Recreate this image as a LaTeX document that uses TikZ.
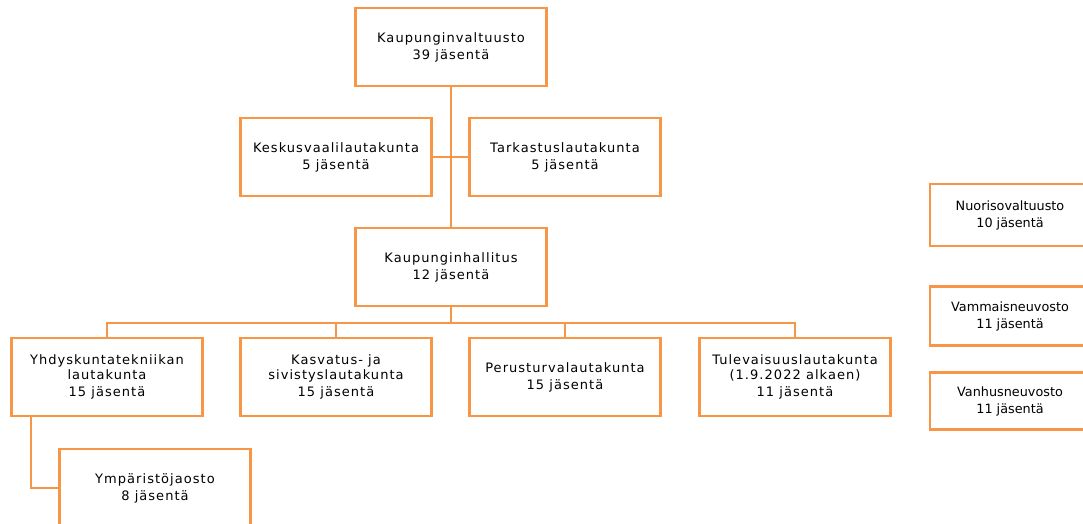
\documentclass[tikz,border=0pt]{standalone}
\usepackage{fontspec}
\newfontfamily\orgfont[LetterSpace=8]{DejaVu Sans}
\newfontfamily\sidefont{DejaVu Sans}
\definecolor{orgorange}{RGB}{247,150,70}
\begin{document}
\begin{tikzpicture}[x=1pt, y=-1pt,
		orgbox/.style={draw=orgorange, line width=2.4pt, minimum width=191pt, minimum height=78pt,
			align=center, inner sep=0pt, font=\orgfont\fontsize{13}{15}\selectfont},
		sidebox/.style={draw=orgorange, line width=2.4pt, minimum width=160pt, align=center,
			inner sep=0pt, font=\sidefont\fontsize{12.8}{17}\selectfont},
		link/.style={draw=orgorange, line width=2.4pt}]
	\clip (0,0) rectangle (1083,523);
	\useasboundingbox (0,0) rectangle (1083,523);

	\node[orgbox] (valtuusto) at (451, 47) {Kaupunginvaltuusto\\[2pt]39 jäsentä};
	\node[orgbox] (keskusvaali) at (336, 157) {Keskusvaalilautakunta\\[2pt]5 jäsentä};
	\node[orgbox] (tarkastus) at (565, 157) {Tarkastuslautakunta\\[2pt]5 jäsentä};
	\node[orgbox] (hallitus) at (451, 267) {Kaupunginhallitus\\[2pt]12 jäsentä};

	\node[orgbox] (yhdyskunta) at (107, 377) {Yhdyskuntatekniikan\\lautakunta\\[2pt]15 jäsentä};
	\node[orgbox] (kasvatus) at (336, 377) {Kasvatus- ja\\sivistyslautakunta\\[2pt]15 jäsentä};
	\node[orgbox] (perusturva) at (565, 377) {Perusturvalautakunta\\[2pt]15 jäsentä};
	\node[orgbox] (tulevaisuus) at (795, 377) {Tulevaisuuslautakunta\\(1.9.2022 alkaen)\\[2pt]11 jäsentä};
	\node[orgbox] (ymparisto) at (155, 488) {Ympäristöjaosto\\[2pt]8 jäsentä};

	\node[sidebox, minimum height=62pt] (nuoriso) at (1010, 215) {Nuorisovaltuusto\\10 jäsentä};
	\node[sidebox, minimum height=59pt] (vammais) at (1010, 316) {Vammaisneuvosto\\11 jäsentä};
	\node[sidebox, minimum height=57pt] (vanhus) at (1010, 401) {Vanhusneuvosto\\11 jäsentä};

	\coordinate (bus) at (451, 323);
	\path[link] (valtuusto.south) -- (hallitus.north);
	\path[link] (keskusvaali.east) -- (tarkastus.west);
	\path[link] (hallitus.south) -- (bus);
	\path[link] (yhdyskunta.north) |- (bus) -| (tulevaisuus.north);
	\path[link] (kasvatus.north) |- (bus);
	\path[link] (perusturva.north) |- (bus);
	\path[link] ([xshift=-76pt]yhdyskunta.south) |- (ymparisto.west);
\end{tikzpicture}
\end{document}
